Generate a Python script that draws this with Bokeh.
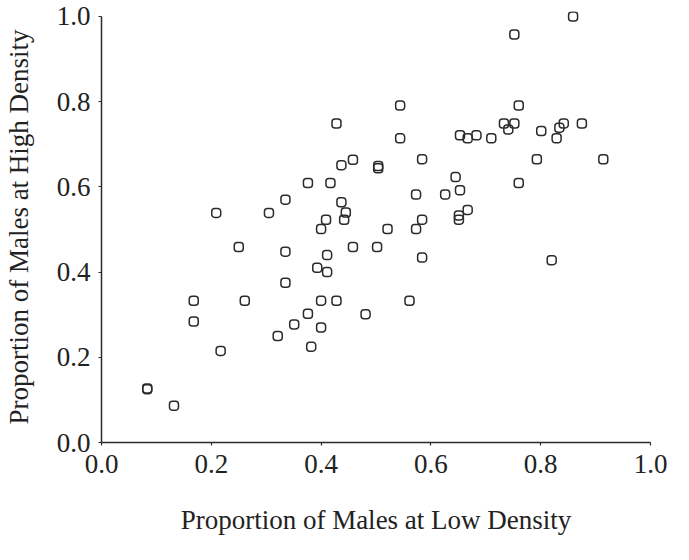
from bokeh.plotting import figure
from bokeh.models import Range1d, ColumnDataSource, FixedTicker
from bokeh.embed import file_html
from bokeh.resources import INLINE

low_density = [0.428, 0.437, 0.458, 0.376, 0.417, 0.335, 0.209, 0.305, 0.437, 0.445,
               0.442, 0.409, 0.400, 0.250, 0.335, 0.411, 0.458, 0.504, 0.504, 0.859,
               0.752, 0.544, 0.760, 0.544, 0.653, 0.667, 0.683, 0.710, 0.733, 0.752,
               0.741, 0.801, 0.829, 0.834, 0.842, 0.875, 0.584, 0.793, 0.914, 0.645,
               0.760, 0.653, 0.573, 0.626, 0.667, 0.651, 0.651, 0.584, 0.521, 0.573,
               0.502, 0.584, 0.820, 0.561, 0.481, 0.393, 0.411, 0.335, 0.168, 0.261,
               0.400, 0.428, 0.168, 0.376, 0.351, 0.400, 0.321, 0.382, 0.217, 0.0833,
               0.0833, 0.132]
high_density = [0.749, 0.651, 0.664, 0.609, 0.609, 0.570, 0.539, 0.539, 0.564, 0.540,
                0.523, 0.523, 0.501, 0.459, 0.448, 0.440, 0.459, 0.649, 0.644, 1.000,
                0.958, 0.791, 0.791, 0.714, 0.721, 0.714, 0.721, 0.714, 0.749, 0.749,
                0.735, 0.731, 0.714, 0.739, 0.749, 0.749, 0.665, 0.665, 0.665, 0.623,
                0.609, 0.592, 0.582, 0.582, 0.546, 0.533, 0.523, 0.523, 0.501, 0.501,
                0.459, 0.434, 0.428, 0.333, 0.301, 0.410, 0.400, 0.375, 0.333, 0.333,
                0.333, 0.333, 0.284, 0.302, 0.277, 0.270, 0.250, 0.225, 0.215, 0.127,
                0.125, 0.086]
ticks = [0.0, 0.2, 0.4, 0.6, 0.8, 1.0]
tick_labels = {t: f"{t:.1f}" for t in ticks}

FONT = "Liberation Serif"
INK = "#2b2b2b"
TXT = "#222222"

p = figure(width=670, height=544, output_backend="svg", toolbar_location=None,
           x_range=Range1d(0, 1.0), y_range=Range1d(0, 1.0117),
           min_border_left=98, min_border_right=20, min_border_top=11, min_border_bottom=102)
p.outline_line_color = None
p.grid.visible = False
p.background_fill_color = "white"

src = ColumnDataSource(dict(x=low_density, y=high_density))
p.rect("x", "y", width=9, height=9, width_units="screen", height_units="screen",
       source=src, fill_color=None, line_color=INK, line_width=1.5, border_radius=3)

for ax in (p.xaxis[0], p.yaxis[0]):
    ax.ticker = FixedTicker(ticks=ticks)
    ax.major_label_overrides = tick_labels
    ax.bounds = (0, 1)
    ax.axis_line_color = INK
    ax.axis_line_width = 1.5
    ax.major_tick_line_color = INK
    ax.major_tick_line_width = 1.2
    ax.major_tick_in = 0
    ax.major_tick_out = 3
    ax.minor_tick_line_color = None
    ax.major_label_text_font = FONT
    ax.major_label_text_font_size = "27px"
    ax.major_label_text_color = TXT
    ax.axis_label_text_font = FONT
    ax.axis_label_text_font_size = "27px"
    ax.axis_label_text_font_style = "normal"
    ax.axis_label_text_color = TXT

p.xaxis[0].major_label_standoff = 9
p.yaxis[0].major_label_standoff = 8

p.xaxis[0].axis_label = "Proportion of Males at Low Density"
p.yaxis[0].axis_label = "Proportion of Males at High Density"
p.xaxis[0].axis_label_standoff = 29
p.yaxis[0].axis_label_standoff = 20

open("out.html", "w").write(file_html(p, INLINE))
